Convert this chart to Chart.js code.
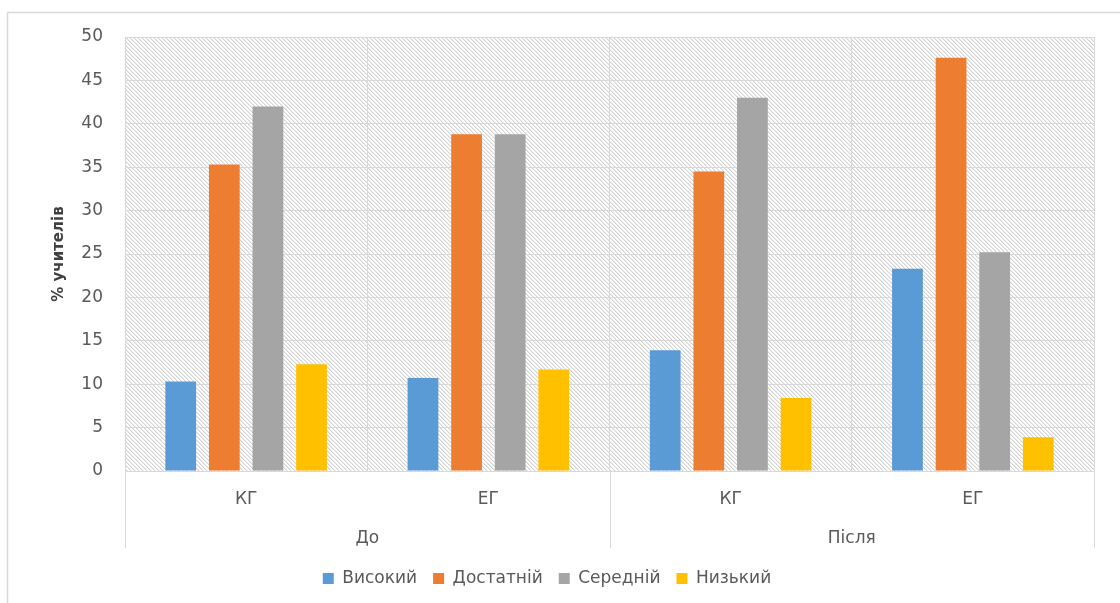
<!DOCTYPE html>
<html>
<head>
<meta charset="utf-8">
<script src="https://cdn.jsdelivr.net/npm/chart.js@4"></script>
<style>
  html, body { margin: 0; padding: 0; background: #ffffff; }
  #wrap { position: relative; width: 1120px; height: 603px; }
</style>
</head>
<body>
<div id="wrap"><canvas id="chart" width="1120" height="603"></canvas></div>
<script>
// Groups along the x axis: inner level (group) and outer level (period)
const groups = ['КГ', 'ЕГ', 'КГ', 'ЕГ'];
const periods = ['До', 'Після'];

// Share of teachers (%) at each level
const highLevel = [10.3, 10.7, 13.9, 23.3];
const sufficientLevel = [35.3, 38.8, 34.5, 47.6];
const mediumLevel = [42.0, 38.8, 43.0, 25.2];
const lowLevel = [12.3, 11.7, 8.4, 3.9];

const seriesNames = ['Високий', 'Достатній', 'Середній', 'Низький'];
const seriesColors = ['#5b9bd5', '#ed7d31', '#a5a5a5', '#ffc000'];

const yTicks = [0, 5, 10, 15, 20, 25, 30, 35, 40, 45, 50];
const yTitle = '% учителів';

const FONT = 'DejaVu Sans';
const TEXT = '#595959';
const LINE = '#d9d9d9';

// Fine "\" diagonal hatch used behind the bars, built pixel by pixel
function makeHatch(ctx) {
  const n = 4;
  const c = document.createElement('canvas');
  c.width = n; c.height = n;
  const g = c.getContext('2d');
  const img = g.createImageData(n, n);
  for (let y = 0; y < n; y++) {
    for (let x = 0; x < n; x++) {
      const d = ((x - y) % n + n) % n;
      const v = d === 0 ? 212 : (d === 1 ? 236 : 255);
      const i = (y * n + x) * 4;
      img.data[i] = img.data[i + 1] = img.data[i + 2] = v;
      img.data[i + 3] = 255;
    }
  }
  g.putImageData(img, 0, 0);
  return ctx.createPattern(c, 'repeat');
}

const framePlugin = {
  id: 'frame',
  beforeDraw(chart) {
    const ctx = chart.ctx;
    const a = chart.chartArea;
    ctx.save();
    // outer chart border (left and top edges)
    ctx.strokeStyle = LINE;
    ctx.lineWidth = 1.5;
    ctx.beginPath();
    ctx.moveTo(7.5, 603);
    ctx.lineTo(7.5, 12.5);
    ctx.lineTo(1120, 12.5);
    ctx.stroke();
    // hatched plot background
    ctx.fillStyle = makeHatch(ctx);
    ctx.fillRect(a.left, a.top, a.right - a.left, a.bottom - a.top);
    ctx.restore();
  },
  afterDraw(chart) {
    // separators of the outer category level, below the axis
    const ctx = chart.ctx;
    const x2 = chart.scales.x2;
    const a = chart.chartArea;
    const mid = (x2.getPixelForTick(0) + x2.getPixelForTick(1)) / 2;
    ctx.save();
    ctx.strokeStyle = LINE;
    ctx.lineWidth = 1;
    ctx.beginPath();
    [x2.left, mid, x2.right].forEach(px => {
      const x = Math.round(px) + 0.5;
      ctx.moveTo(x, a.bottom);
      ctx.lineTo(x, 548);
    });
    ctx.stroke();
    ctx.restore();
  }
};

const datasetsData = [highLevel, sufficientLevel, mediumLevel, lowLevel];

new Chart(document.getElementById('chart'), {
  type: 'bar',
  data: {
    labels: groups,
    datasets: datasetsData.map((d, i) => ({
      label: seriesNames[i],
      data: d,
      backgroundColor: seriesColors[i],
      borderWidth: 0,
      categoryPercentage: 0.72,
      barPercentage: 0.705,
      xAxisID: 'x'
    }))
  },
  options: {
    responsive: false,
    animation: false,
    layout: { padding: { left: 0, right: 26, top: 37, bottom: 6 } },
    plugins: {
      legend: {
        position: 'bottom',
        labels: {
          boxWidth: 11,
          boxHeight: 11,
          padding: 16,
          color: TEXT,
          font: { family: FONT, size: 17 }
        }
      },
      tooltip: { enabled: false }
    },
    scales: {
      x: {
        type: 'category',
        position: 'bottom',
        offset: true,
        grid: { offset: true, color: LINE, drawTicks: false, lineWidth: 1 },
        border: { color: LINE },
        ticks: { color: TEXT, padding: 18, font: { family: FONT, size: 17 } },
        afterFit(s) { s.height = 40; }
      },
      x2: {
        type: 'category',
        position: 'bottom',
        labels: periods,
        offset: true,
        grid: { display: false, drawTicks: false },
        border: { display: false },
        ticks: { color: TEXT, padding: 17, font: { family: FONT, size: 17 } },
        afterFit(s) { s.height = 43; }
      },
      y: {
        min: 0,
        max: 50,
        afterBuildTicks(s) { s.ticks = yTicks.map(v => ({ value: v })); },
        grid: { color: LINE, drawTicks: false },
        border: { display: false },
        ticks: { color: TEXT, padding: 22, font: { family: FONT, size: 17 } },
        title: {
          display: true,
          text: yTitle,
          color: '#404040',
          font: { family: FONT, size: 15, weight: 'bold' },
          padding: { top: 50, bottom: 0 }
        },
        afterFit(s) { s.width = 125; }
      }
    }
  },
  plugins: [framePlugin]
});
</script>
</body>
</html>
